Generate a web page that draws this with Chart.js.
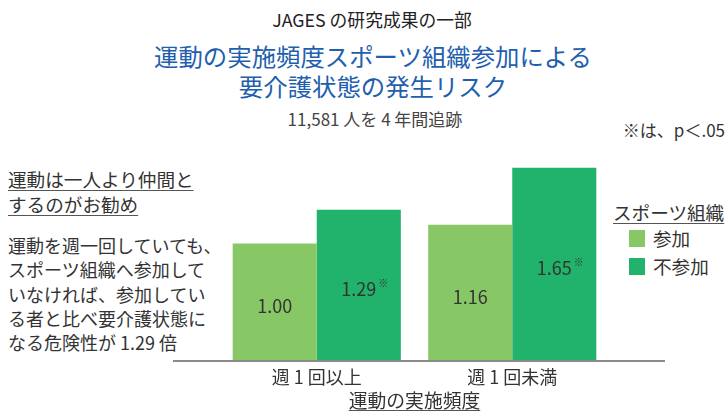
<!DOCTYPE html>
<html lang="ja">
<head>
<meta charset="utf-8">
<script src="https://cdn.jsdelivr.net/npm/chart.js@4"></script>
<style>
  html, body { margin: 0; padding: 0; background: #fff; }
  body { width: 728px; height: 412px; position: relative; overflow: hidden;
         font-family: "Noto Sans CJK JP", "Noto Sans", sans-serif; color: #333; }
  #chart { position: absolute; left: 0; top: 0; }
  .t { position: absolute; white-space: nowrap; line-height: 1; }
  #head1 { left: 0; width: 744px; top: 11px; text-align: center; font-size: 17.8px; color: #222; }
  #head2 { left: 0; width: 746px; top: 41px; text-align: center; font-size: 24.4px; color: #1f5fae; line-height: 30px; }
  #sub { left: 0; width: 750px; top: 110px; text-align: center; font-size: 17px; color: #444; }
  #note { right: 3px; top: 121px; font-size: 17px; color: #333; }
  #lead { left: 8px; top: 166px; font-size: 18.6px; line-height: 25px; }
  #lead span { text-decoration: underline; text-decoration-color: #555; text-underline-offset: 3px; }
  #body { left: 8px; top: 233px; font-size: 18px; line-height: 24.3px; }
  #legend { left: 613px; top: 200px; font-size: 18.6px; }
  #legend .ttl { text-decoration: underline; text-decoration-color: #555; text-underline-offset: 3px; line-height: 24px; }
  #legend .item { display: flex; align-items: center; margin-left: 16px; height: 28px; }
  #legend .sw { width: 16px; height: 17px; margin-right: 8px; }
</style>
</head>
<body>
<div class="t" id="head1">JAGES の研究成果の一部</div>
<div class="t" id="head2">運動の実施頻度スポーツ組織参加による<br>要介護状態の発生リスク</div>
<div class="t" id="sub">11,581 人を 4 年間追跡</div>
<div class="t" id="note">※は、p＜.05</div>
<div class="t" id="lead"><span>運動は一人より仲間と</span><br><span>するのがお勧め</span></div>
<div class="t" id="body">運動を週一回していても、<br>スポーツ組織へ参加して<br>いなければ、参加してい<br>る者と比べ要介護状態に<br>なる危険性が 1.29 倍</div>
<div class="t" id="legend"></div>
<canvas id="chart" width="728" height="412"></canvas>
<script>
const categories = ['週 1 回以上', '週 1 回未満'];
const seriesNames = ['参加', '不参加'];
const sankaValues = [1.00, 1.16];
const fusankaValues = [1.29, 1.65];
const sankaSignificant = [false, false];
const fusankaSignificant = [true, true];
const legendTitle = 'スポーツ組織';
const axisTitle = '運動の実施頻度';

const fontFamily = '"Noto Sans CJK JP", "Noto Sans", sans-serif';

// value labels in the middle of each bar, ※ after significant ones
const barLabels = {
    id: 'barLabels',
    afterDatasetsDraw(chart) {
        const ctx = chart.ctx;
        ctx.save();
        chart.data.datasets.forEach((ds, i) => {
            chart.getDatasetMeta(i).data.forEach((bar, j) => {
                const txt = ds.data[j].toFixed(2);
                const y = (bar.y + bar.base) / 2 + 4.5;
                ctx.font = '18px ' + fontFamily;
                ctx.fillStyle = '#333';
                ctx.textAlign = 'center';
                ctx.textBaseline = 'middle';
                ctx.fillText(txt, bar.x, y);
                if (ds.significant[j]) {
                    const w = ctx.measureText(txt).width;
                    ctx.font = '10px ' + fontFamily;
                    ctx.textAlign = 'left';
                    ctx.fillText('※', bar.x + w / 2 + 2, y - 6);
                }
            });
        });
        ctx.restore();
    }
};

// baseline running past the plot, and underline under the axis title
const baseLine = {
    id: 'baseLine',
    afterDraw(chart) {
        const {ctx, chartArea} = chart;
        const x = chart.scales.x;
        ctx.save();
        ctx.strokeStyle = '#8a8a8a';
        ctx.lineWidth = 2;
        ctx.beginPath();
        ctx.moveTo(chartArea.left - 46, chartArea.bottom + 1);
        ctx.lineTo(chartArea.right + 55, chartArea.bottom + 1);
        ctx.stroke();

        ctx.font = '18.8px ' + fontFamily;
        const tw = ctx.measureText(axisTitle).width;
        const cx = (chartArea.left + chartArea.right) / 2;
        ctx.strokeStyle = '#555';
        ctx.lineWidth = 1;
        ctx.beginPath();
        ctx.moveTo(cx - tw / 2, x.bottom - 1.5);
        ctx.lineTo(cx + tw / 2, x.bottom - 1.5);
        ctx.stroke();
        ctx.restore();
    }
};

const chart = new Chart(document.getElementById('chart'), {
    type: 'bar',
    data: {
        labels: categories,
        datasets: [
            { label: seriesNames[0], data: sankaValues, significant: sankaSignificant, backgroundColor: '#88c766' },
            { label: seriesNames[1], data: fusankaValues, significant: fusankaSignificant, backgroundColor: '#21b26b' }
        ]
    },
    options: {
        responsive: false,
        animation: false,
        devicePixelRatio: 1,
        layout: { padding: { left: 219, right: 118, top: 127, bottom: 0 } },
        datasets: { bar: { categoryPercentage: 0.86, barPercentage: 1 } },
        plugins: { legend: { display: false }, tooltip: { enabled: false } },
        scales: {
            x: {
                grid: { display: false, drawTicks: false },
                border: { display: false },
                ticks: { color: '#333', padding: 6.5, font: { family: fontFamily, size: 18 } },
                title: { display: true, text: axisTitle, color: '#333', padding: { top: -4.2, bottom: 0 }, font: { family: fontFamily, size: 18.8, lineHeight: 1.15 } }
            },
            y: { display: false, min: 0, max: 2 }
        }
    },
    plugins: [baseLine, barLabels]
});

// legend built from the datasets
const legend = document.getElementById('legend');
let html = '<div class="ttl">' + legendTitle + '</div>';
chart.data.datasets.forEach(ds => {
    html += '<div class="item"><div class="sw" style="background:' + ds.backgroundColor + '"></div>' + ds.label + '</div>';
});
legend.innerHTML = html;
</script>
</body>
</html>
